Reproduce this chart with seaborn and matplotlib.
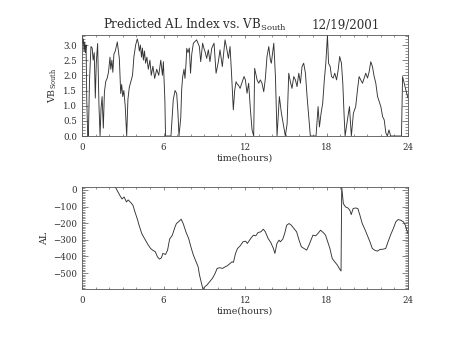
import numpy as np
import pandas as pd
import matplotlib
matplotlib.use("Agg")
import matplotlib.pyplot as plt
from matplotlib.ticker import MultipleLocator
import seaborn as sns

# Southward IMF driver (VB_South), hours since 00 UT
vb_hours = [0.00, 0.05, 0.10, 0.15, 0.20, 0.25, 0.30, 0.35, 0.42, 0.47, 0.55, 0.66,
            0.75, 0.82, 0.90, 0.98, 1.05, 1.15, 1.25, 1.33, 1.40, 1.48, 1.57, 1.65,
            1.75, 1.85, 1.95, 2.06, 2.12, 2.20, 2.27, 2.35, 2.45, 2.60, 2.68, 2.75,
            2.85, 2.92, 3.00, 3.08, 3.18, 3.29, 3.38, 3.48, 3.60, 3.72, 3.82, 3.95,
            4.07, 4.15, 4.22, 4.30, 4.38, 4.45, 4.52, 4.60, 4.68, 4.78, 4.88, 5.00,
            5.10, 5.22, 5.35, 5.50, 5.65, 5.80, 5.92, 5.99, 6.10, 6.15, 6.55, 6.72,
            6.85, 6.97, 7.06, 7.14, 7.27, 7.34, 7.41, 7.51, 7.58, 7.66, 7.71, 7.80,
            7.90, 7.99, 8.08, 8.20, 8.44, 8.55, 8.64, 8.74, 8.88, 8.97, 9.06, 9.18,
            9.30, 9.42, 9.55, 9.72, 9.87, 10.04, 10.16, 10.33, 10.53, 10.65, 10.78, 10.90,
            11.02, 11.14, 11.24, 11.34, 11.44, 11.51, 11.60, 11.64, 11.76, 11.93, 12.03, 12.15,
            12.27, 12.40, 12.52, 12.64, 12.71, 12.89, 13.01, 13.13, 13.25, 13.38, 13.50, 13.62,
            13.75, 13.87, 13.94, 14.12, 14.24, 14.36, 14.53, 14.68, 14.85, 14.97, 15.10, 15.22,
            15.34, 15.46, 15.59, 15.71, 15.83, 15.96, 16.08, 16.20, 16.32, 16.45, 16.57, 16.69,
            16.81, 17.23, 17.38, 17.48, 17.60, 17.72, 17.84, 17.95, 18.07, 18.15, 18.27, 18.37,
            18.49, 18.61, 18.74, 18.86, 18.97, 19.10, 19.20, 19.30, 19.37, 19.54, 19.69, 19.83,
            19.98, 20.15, 20.28, 20.40, 20.52, 20.65, 20.77, 20.89, 21.02, 21.14, 21.26, 21.38,
            21.51, 21.63, 21.76, 21.88, 22.00, 22.13, 22.25, 22.37, 22.48, 22.60, 22.72, 23.52,
            23.60, 23.72, 23.84, 24.00]
vb_south = [3.28, 3.05, 3.20, 2.80, 3.10, 2.75, 3.00, 1.20, 0.00, 0.00, 1.80, 2.95,
            2.90, 2.50, 2.75, 1.25, 2.40, 3.05, 1.00, 0.00, 0.90, 1.30, 0.26, 1.45,
            1.80, 1.90, 2.10, 2.60, 2.20, 2.50, 2.10, 2.70, 2.80, 3.10, 2.80, 2.55,
            1.40, 1.70, 1.30, 1.50, 1.00, 0.00, 1.20, 1.60, 1.80, 2.00, 2.60, 3.00,
            3.20, 3.05, 2.80, 3.00, 2.60, 2.90, 2.50, 2.80, 2.40, 2.60, 2.20, 2.50,
            2.00, 2.30, 1.90, 2.20, 2.00, 2.50, 2.00, 2.45, 1.20, 0.00, 0.00, 1.20,
            1.50, 1.40, 0.80, 0.00, 0.60, 1.55, 1.95, 2.20, 1.90, 2.40, 2.89, 2.75,
            2.90, 2.07, 2.70, 3.06, 3.17, 3.05, 2.95, 2.45, 3.06, 2.90, 2.78, 2.56,
            2.84, 2.45, 2.89, 3.06, 2.07, 2.45, 2.84, 2.29, 3.17, 2.89, 2.56, 2.95,
            1.96, 0.86, 1.50, 1.79, 1.70, 1.68, 1.60, 1.57, 1.74, 1.96, 1.85, 1.41,
            1.74, 0.86, 0.20, 0.00, 2.23, 1.85, 1.74, 1.85, 1.74, 1.46, 1.90, 2.62,
            2.95, 2.50, 2.40, 3.06, 1.96, 0.00, 1.30, 0.75, 0.30, 0.00, 0.40, 2.07,
            1.79, 1.57, 1.96, 1.85, 1.63, 2.07, 1.74, 2.29, 2.40, 2.07, 1.30, 0.64,
            0.00, 0.00, 0.97, 0.30, 0.75, 1.08, 1.85, 2.40, 3.33, 2.40, 2.29, 1.96,
            1.91, 2.07, 1.85, 2.18, 2.62, 2.40, 1.74, 0.64, 0.00, 0.53, 0.97, 0.00,
            0.75, 0.97, 1.52, 1.96, 1.85, 1.74, 1.91, 2.07, 1.91, 2.12, 2.45, 2.29,
            1.96, 1.74, 1.30, 1.14, 0.97, 0.64, 0.53, 0.10, 0.00, 0.20, 0.00, 0.00,
            1.96, 1.74, 1.52, 1.25]

# Predicted AL index (nT)
al_hours = [2.45, 2.65, 2.85, 2.95, 3.10, 3.27, 3.40, 3.60, 3.75, 3.90, 4.10, 4.20,
            4.40, 4.60, 4.85, 5.05, 5.20, 5.40, 5.55, 5.70, 5.85, 5.95, 6.15, 6.30,
            6.45, 6.65, 6.85, 6.95, 7.10, 7.30, 7.45, 7.65, 7.85, 8.05, 8.20, 8.40,
            8.55, 8.65, 8.80, 8.90, 9.05, 9.20, 9.40, 9.60, 9.80, 9.95, 10.15, 10.35,
            10.55, 10.70, 10.90, 11.05, 11.15, 11.30, 11.45, 11.65, 11.85, 12.05, 12.17, 12.42,
            12.62, 12.79, 12.96, 13.16, 13.35, 13.50, 13.70, 13.90, 14.09, 14.20, 14.35, 14.50,
            14.60, 14.78, 14.92, 15.07, 15.24, 15.41, 15.61, 15.80, 15.98, 16.15, 16.35, 16.54,
            16.71, 16.90, 17.00, 17.20, 17.37, 17.56, 17.76, 17.93, 18.05, 18.25, 18.42, 18.60,
            18.80, 18.97, 19.07, 19.12, 19.24, 19.40, 19.57, 19.72, 19.82, 19.96, 20.14, 20.31,
            20.46, 20.63, 20.80, 21.00, 21.20, 21.37, 21.54, 21.74, 21.94, 22.19, 22.36, 22.53,
            22.73, 22.92, 23.10, 23.27, 23.47, 23.67, 23.80, 23.90, 24.00]
al_index = [18, -12, -42, -54, -42, -72, -60, -76, -92, -132, -182, -212,
            -262, -292, -328, -352, -362, -372, -402, -416, -408, -382, -388, -362,
            -296, -272, -222, -202, -192, -176, -202, -252, -292, -352, -392, -432,
            -462, -512, -562, -596, -582, -572, -552, -532, -502, -472, -468, -472,
            -462, -456, -442, -432, -436, -382, -352, -336, -312, -308, -322, -292,
            -272, -276, -256, -252, -236, -252, -292, -316, -352, -382, -322, -302,
            -312, -296, -262, -212, -202, -212, -232, -252, -302, -342, -352, -362,
            -332, -292, -272, -276, -262, -242, -256, -272, -302, -352, -412, -432,
            -452, -476, -488, 18, -82, -102, -108, -122, -148, -112, -108, -112,
            -152, -202, -232, -272, -312, -352, -362, -368, -358, -356, -352, -312,
            -268, -232, -192, -178, -182, -192, -212, -240, -262]

title_left = r"Predicted AL Index vs. VB$_{\rm South}$"
title_date = "12/19/2001"
x_label = "time(hours)"
vb_label = r"VB$_{\rm South}$"
al_label = "AL"

sns.set_theme(style="ticks")
plt.rcParams["font.family"] = ["DejaVu Serif", "DejaVu Sans"]
plt.rcParams["mathtext.fontset"] = "dejavuserif"

ink = "#333333"
text_ink = "#2e2e2e"
frame = "#555555"
fig = plt.figure(figsize=(4.54, 3.41), dpi=100)
fig.patch.set_facecolor("white")

ax1 = fig.add_axes([82 / 454, 1 - 136 / 341, 326 / 454, 101 / 341])
ax2 = fig.add_axes([82 / 454, 1 - 289 / 341, 326 / 454, 102 / 341])

vb_df = pd.DataFrame({"hours": vb_hours, "vb": vb_south})
al_df = pd.DataFrame({"hours": al_hours, "al": al_index})

sns.lineplot(data=vb_df, x="hours", y="vb", ax=ax1, color=ink, lw=0.65,
             estimator=None, sort=False)
sns.lineplot(data=al_df, x="hours", y="al", ax=ax2, color=ink, lw=0.65,
             estimator=None, sort=False)

ax1.set_xlim(0, 24)
ax1.set_ylim(0, max(vb_south))
ax2.set_xlim(0, 24)
ax2.set_ylim(min(al_index), max(al_index))

ax1.yaxis.set_major_locator(MultipleLocator(0.5))
ax1.yaxis.set_minor_locator(MultipleLocator(0.1))
ax1.yaxis.set_major_formatter(matplotlib.ticker.FormatStrFormatter("%.1f"))
ax2.yaxis.set_major_locator(MultipleLocator(100))
ax2.yaxis.set_minor_locator(MultipleLocator(10))
ax2.yaxis.set_major_formatter(
    matplotlib.ticker.FuncFormatter(lambda v, p: f"{int(round(v))}".replace("-", "\u2212")))

for ax in (ax1, ax2):
    ax.set_facecolor("white")
    ax.xaxis.set_major_locator(MultipleLocator(6))
    ax.xaxis.set_minor_locator(MultipleLocator(1))
    for s in ax.spines.values():
        s.set_visible(True)
        s.set_linewidth(0.6)
        s.set_color(frame)
    ax.tick_params(axis="x", which="major", direction="in", length=2.2, width=0.5,
                   color=frame, top=True, bottom=True, labelsize=6.2, pad=5,
                   labelcolor=text_ink)
    ax.tick_params(axis="x", which="minor", direction="in", length=1.2, width=0.45,
                   color=frame, top=True, bottom=True)
    ax.tick_params(axis="y", which="major", direction="in", length=4.5, width=0.5,
                   color=frame, left=True, right=True, labelsize=6.2, pad=3.5,
                   labelcolor=text_ink)
    ax.tick_params(axis="y", which="minor", direction="in", length=2.2, width=0.45,
                   color=frame, left=True, right=True)
    ax.set_xlabel(x_label, fontsize=6.8, labelpad=1.5, color=text_ink)

ax1.set_ylabel(vb_label, fontsize=6.8, labelpad=3, color=text_ink)
ax2.set_ylabel(al_label, fontsize=6.8, labelpad=3, color=text_ink)

fig.text(102.7 / 454, 1 - 29.3 / 341, title_left, fontsize=8.6, ha="left",
         va="baseline", color=text_ink)
fig.text(380 / 454, 1 - 29.3 / 341, title_date, fontsize=8.6, ha="right",
         va="baseline", color=text_ink)

fig.savefig("out.png", dpi=100, facecolor="white")
